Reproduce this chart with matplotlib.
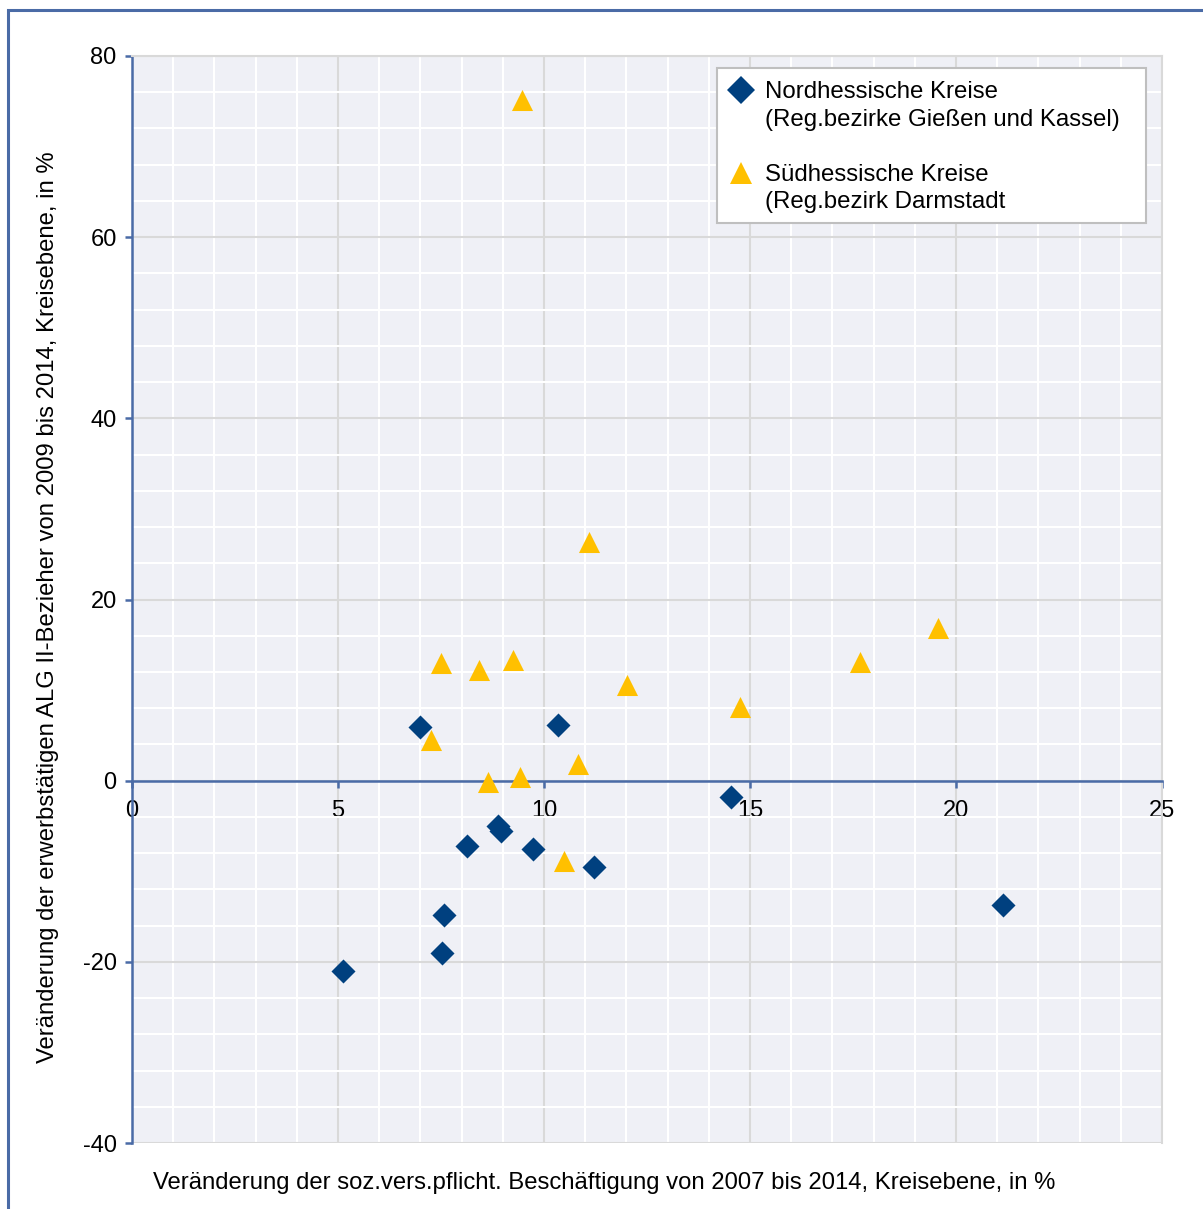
import matplotlib.pyplot as plt
from matplotlib.patches import Rectangle
from matplotlib.ticker import MultipleLocator

plt.rcParams["font.family"] = ["Liberation Sans", "DejaVu Sans"]

# Nordhessische Kreise (Reg.bezirke Gießen und Kassel)
nord_x = [7.0, 10.35, 14.55, 8.13, 8.88, 8.96, 9.73, 11.21, 7.57, 7.52, 5.12, 21.14]
nord_y = [5.9, 6.1, -1.8, -7.2, -5.0, -5.6, -7.5, -9.5, -14.8, -19.0, -21.0, -13.7]

# Südhessische Kreise (Reg.bezirk Darmstadt)
sued_x = [9.47, 11.09, 19.56, 7.5, 8.42, 9.25, 17.67, 12.01, 14.76, 7.26, 10.83, 9.42, 8.64, 10.49]
sued_y = [75.1, 26.4, 16.8, 13.0, 12.2, 13.3, 13.1, 10.6, 8.1, 4.5, 1.8, 0.4, -0.2, -8.9]

x_ticks = [0, 5, 10, 15, 20, 25]
y_ticks = [-40, -20, 0, 20, 40, 60, 80]

label_nord = "Nordhessische Kreise\n(Reg.bezirke Gießen und Kassel)"
label_sued = "Südhessische Kreise\n(Reg.bezirk Darmstadt"

blau = "#4a6ba6"
grau = "#d9d9d9"
farbe_nord = "#00407f"
farbe_sued = "#ffc000"

fig = plt.figure(figsize=(12.03, 12.09), dpi=100)
ax = fig.add_axes([132 / 1203, 1 - 1143 / 1209, 1030 / 1203, 1087 / 1209])
ax.set_facecolor("#eff0f6")

# Rahmen um die ganze Grafik
fig.patches.append(Rectangle((8 / 1203, -0.1), 1.2, 1.1 - 10 / 1209,
                             transform=fig.transFigure, fill=False,
                             edgecolor=blau, linewidth=2.2))

ax.set_xlim(0, 25)
ax.set_ylim(-40, 80)
ax.xaxis.set_major_locator(MultipleLocator(5))
ax.xaxis.set_minor_locator(MultipleLocator(1))
ax.yaxis.set_major_locator(MultipleLocator(20))
ax.yaxis.set_minor_locator(MultipleLocator(4))

ax.grid(which="minor", color="white", linewidth=1.5, zorder=0)
ax.grid(which="major", color=grau, linewidth=1.5, zorder=0)
ax.set_axisbelow(True)

ax.spines["bottom"].set_position(("data", 0))
ax.spines["bottom"].set_color(blau)
ax.spines["bottom"].set_linewidth(1.8)
ax.spines["left"].set_color(blau)
ax.spines["left"].set_linewidth(1.8)
for s in ["top", "right"]:
    ax.spines[s].set_color(grau)
    ax.spines[s].set_linewidth(1.5)

ax.set_xticks(x_ticks)
ax.set_yticks(y_ticks)
ax.set_xticklabels([str(v) for v in x_ticks])
ax.set_yticklabels([str(v) for v in y_ticks])
ax.tick_params(which="major", direction="out", length=5, width=1.8, color=blau,
               labelsize=17, pad=6)
ax.tick_params(axis="x", pad=9)
ax.tick_params(which="minor", length=0)

ax.scatter(nord_x, nord_y, marker="D", s=150, color=farbe_nord, zorder=3, linewidths=0)
ax.scatter(sued_x, sued_y, marker="^", s=230, color=farbe_sued, zorder=3, linewidths=0)

# Legende von Hand, damit das Symbol an der ersten Zeile steht
ax.add_patch(Rectangle((0.568, 0.8464), 0.4165, 0.1426, transform=ax.transAxes,
                       facecolor="white", edgecolor="#bfbfbf", linewidth=1.5, zorder=5))
ax.plot([0.5913], [0.9687], marker="D", ms=14, color=farbe_nord, mew=0,
        transform=ax.transAxes, zorder=6)
ax.plot([0.5913], [0.8924], marker="^", ms=16, color=farbe_sued, mew=0,
        transform=ax.transAxes, zorder=6)
ax.text(0.6146, 0.9540, label_nord, transform=ax.transAxes, fontsize=17.3,
        va="center", ha="left", linespacing=1.3, zorder=6)
ax.text(0.6146, 0.8782, label_sued, transform=ax.transAxes, fontsize=17.3,
        va="center", ha="left", linespacing=1.3, zorder=6)

fig.text(604 / 1203, 1 - 1183 / 1209,
         "Veränderung der soz.vers.pflicht. Beschäftigung von 2007 bis 2014, Kreisebene, in %",
         ha="center", va="center", fontsize=17.2)
fig.text(48 / 1203, 1 - 607 / 1209,
         "Veränderung der erwerbstätigen ALG II-Bezieher von 2009 bis 2014, Kreisebene, in %",
         ha="center", va="center", rotation=90, fontsize=17.2)

fig.savefig("out.png", dpi=100)
